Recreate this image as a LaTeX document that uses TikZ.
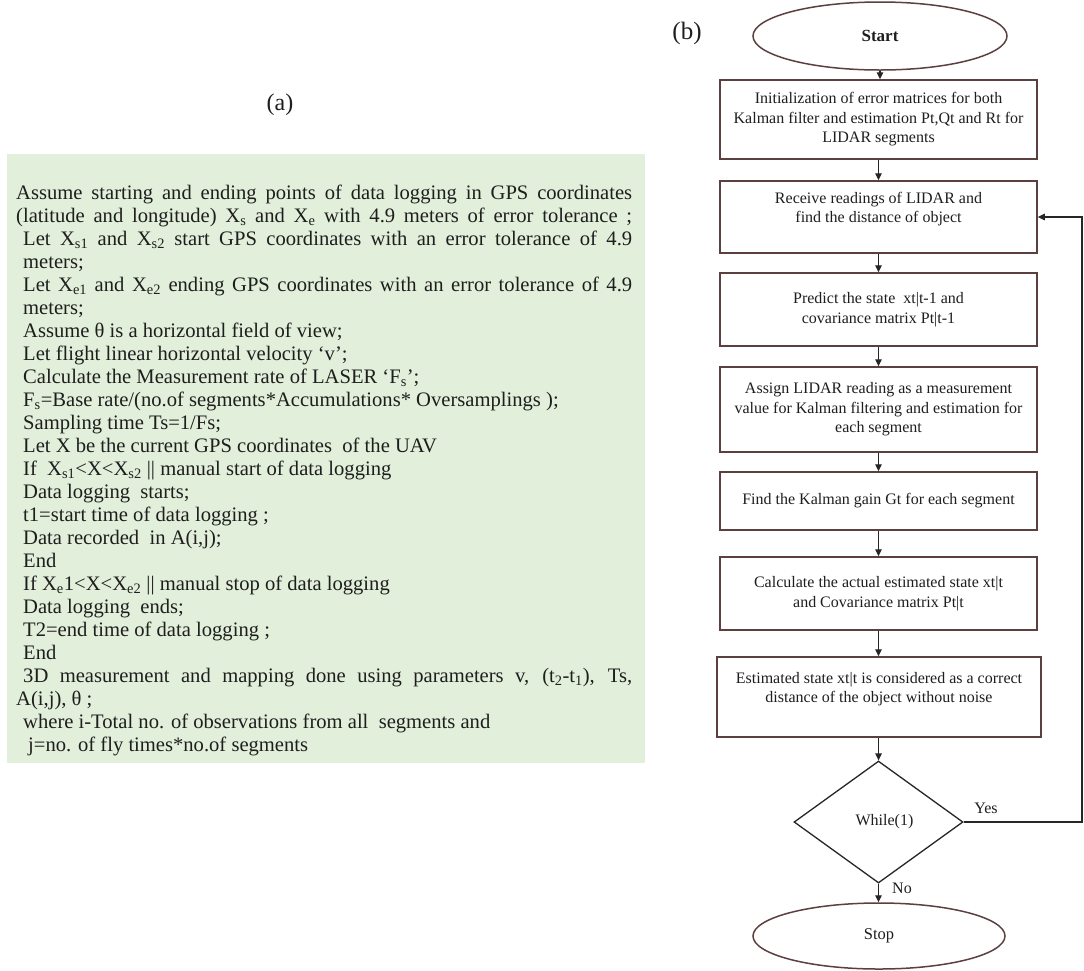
\documentclass[tikz,border=0pt]{standalone}
\usepackage{fontspec}
\setmainfont{Liberation Serif}
\usetikzlibrary{shapes.geometric,arrows.meta}
\definecolor{gbg}{HTML}{E2EFDA}
\definecolor{bcol}{RGB}{92,64,64}
\definecolor{txt}{RGB}{30,30,30}
\begin{document}
\begin{tikzpicture}[x=1pt,y=-1pt,
  box/.style={draw=bcol, line width=1.5pt, minimum width=317pt, align=center,
    font=\fontsize{16}{19.5}\selectfont, inner sep=0pt, text=txt},
  oval/.style={ellipse, draw=bcol, line width=1.5pt, inner sep=0pt, text=txt},
  dia/.style={diamond, draw=black!85, line width=1.3pt, minimum width=169pt,
    minimum height=122pt, inner sep=0pt, text=txt, font=\fontsize{16}{19.5}\selectfont},
  arr/.style={-{Triangle[length=7pt,width=6.5pt]}, line width=1.3pt, draw=black!85},
  lbl/.style={text=txt, inner sep=0pt, font=\fontsize{16}{19.5}\selectfont}]
\useasboundingbox (0,0) rectangle (1084,970);
\fill[white] (0,0) rectangle (1084,970);

% panel (a)
\node (la) [text=txt, font=\fontsize{24}{26}\selectfont] at (280,105) {(a)};
\node (panelA) [fill=gbg, minimum width=638pt, minimum height=609pt, inner sep=0pt, anchor=north west] at (7,154) {};
\node (code) [anchor=base west, inner sep=0pt, text=txt, font=\fontsize{20.6}{23}\selectfont] at (16,199.5) {%
\begin{minipage}[t]{616pt}
\makebox[616pt][s]{Assume starting and ending points of data logging in GPS coordinates}\\
\makebox[616pt][s]{(latitude and longitude) X\textsubscript{s} and X\textsubscript{e} with 4.9 meters of error tolerance ;}\\
\hspace*{7pt}\makebox[609pt][s]{Let X\textsubscript{s1} and X\textsubscript{s2} start GPS coordinates with an error tolerance of 4.9}\\
\hspace*{7pt}meters;\\
\hspace*{7pt}\makebox[609pt][s]{Let X\textsubscript{e1} and X\textsubscript{e2} ending GPS coordinates with an error tolerance of 4.9}\\
\hspace*{7pt}meters;\\
\hspace*{7pt}Assume θ is a horizontal field of view;\\
\hspace*{7pt}Let flight linear horizontal velocity ‘v’;\\
\hspace*{7pt}Calculate the Measurement rate of LASER ‘F\textsubscript{s}’;\\
\hspace*{7pt}F\textsubscript{s}=Base rate/(no.of segments*Accumulations* Oversamplings );\\
\hspace*{7pt}Sampling time Ts=1/Fs;\\
\hspace*{7pt}Let X be the current GPS coordinates\ \ of the UAV\\
\hspace*{7pt}If\ \ X\textsubscript{s1}<X<X\textsubscript{s2} || manual start of data logging\\
\hspace*{7pt}Data logging\ \ starts;\\
\hspace*{7pt}t1=start time of data logging ;\\
\hspace*{7pt}Data recorded\ \ in A(i,j);\\
\hspace*{7pt}End\\
\hspace*{7pt}If X\textsubscript{e}1<X<X\textsubscript{e2} || manual stop of data logging\\
\hspace*{7pt}Data logging\ \ ends;\\
\hspace*{7pt}T2=end time of data logging ;\\
\hspace*{7pt}End\\
\hspace*{7pt}\makebox[609pt][s]{3D measurement and mapping done using parameters v, (t\textsubscript{2}-t\textsubscript{1}), Ts,}\\
A(i,j), θ ;\\
\hspace*{7pt}where i-Total no. of observations from all\ \ segments and\\
\hspace*{12pt}j=no. of fly times*no.of segments
\end{minipage}};

% panel (b)
\node (lb) [text=txt, font=\fontsize{25}{27}\selectfont] at (687,33) {(b)};
\node[oval, minimum width=254pt, minimum height=68pt, font=\bfseries\fontsize{17}{20}\selectfont] (start) at (880,36) {Start};
\node[box, minimum height=79pt] (b1) at (878.5,119.5) {Initialization of error matrices for both\\Kalman filter and estimation Pt,Qt and Rt for\\LIDAR segments};
\node[box, minimum height=72pt] (b2) at (878.5,217) {Receive readings of LIDAR and\\find the distance of object\\\mbox{}};
\node[box, minimum height=73pt] (b3) at (878.5,309.5) {Predict the state\ \ xt|t-1 and\\covariance matrix Pt|t-1};
\node[box, minimum height=85pt] (b4) at (878.5,409.5) {Assign LIDAR reading as a measurement\\value for Kalman filtering and estimation for\\each segment};
\node[box, minimum height=58pt] (b5) at (878.5,501) {Find the Kalman gain Gt for each segment};
\node[box, minimum height=73pt] (b6) at (878.5,593.5) {Calculate the actual estimated state xt|t\\and Covariance matrix Pt|t};
\node[box, minimum height=80pt, minimum width=324pt] (b7) at (879,697) {Estimated state xt|t is considered as a correct\\distance of the object without noise\\\mbox{}};
\node[dia] (dec) at (878.5,822) {\hspace*{12pt}While(1)};
\node[oval, minimum width=252pt, minimum height=66pt, font=\fontsize{16.5}{19}\selectfont] (stop) at (879,936) {Stop};

\draw[arr] (start.south) -- (start.south |- b1.north);
\draw[arr] (b1) -- (b2);
\draw[arr] (b2) -- (b3);
\draw[arr] (b3) -- (b4);
\draw[arr] (b4) -- (b5);
\draw[arr] (b5) -- (b6);
\draw[arr] (b6.south) -- (b6.south |- b7.north);
\draw[arr] (b7.south -| dec.north) -- (dec.north);
\draw[arr] (dec.south) -- (dec.south |- stop.north);
\coordinate (loopx) at (1082,822);
\draw[arr] (dec.east) -- (loopx) |- (b2.east);
\node[lbl] (yes) at (986,808) {Yes};
\node[lbl] (no) at (902,888) {No};
\end{tikzpicture}
\end{document}
